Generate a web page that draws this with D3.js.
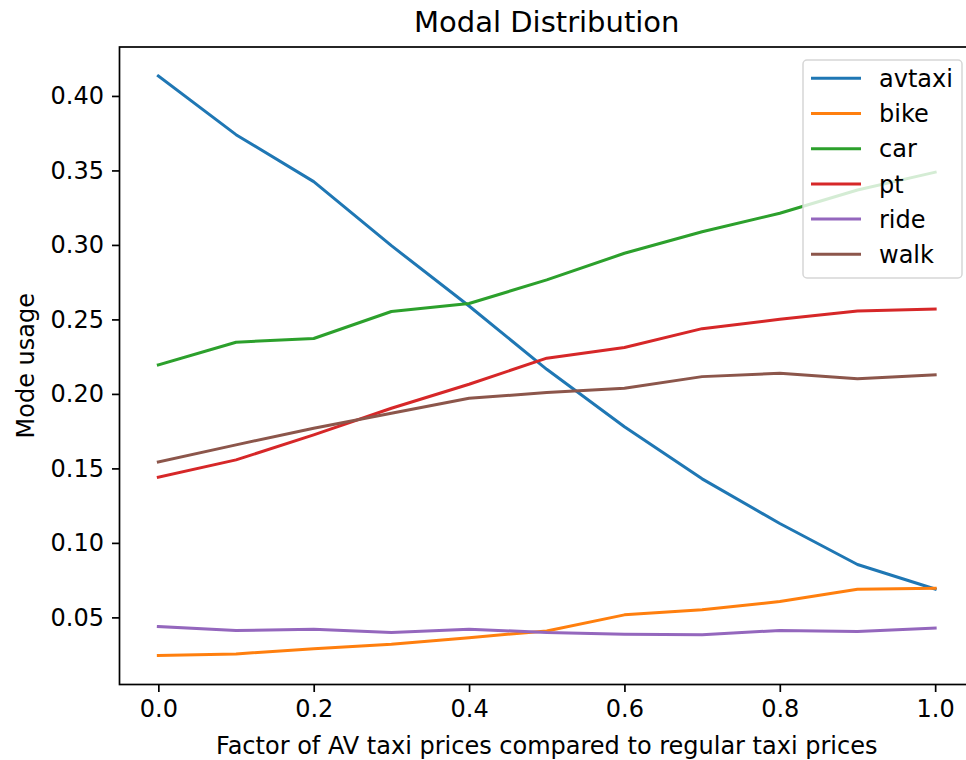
<!DOCTYPE html>
<html>
<head>
<meta charset="utf-8">
<script src="https://cdn.jsdelivr.net/npm/d3@7"></script>
<style>
    body { margin: 0; background: #ffffff; }
    svg { display: block; }
</style>
</head>
<body>
<div id="chart"></div>
<script>
// price factors on the x axis
const factors = [0.0, 0.1, 0.2, 0.3, 0.4, 0.5, 0.6, 0.7, 0.8, 0.9, 1.0];

const modes = ['avtaxi', 'bike', 'car', 'pt', 'ride', 'walk'];

const avtaxi = [0.4134, 0.3740, 0.3425, 0.2995, 0.2590, 0.2165, 0.1780, 0.1430, 0.1130, 0.0855, 0.0690];
const bike   = [0.0244, 0.0255, 0.0290, 0.0320, 0.0364, 0.0409, 0.0517, 0.0552, 0.0606, 0.0689, 0.0696];
const car    = [0.2195, 0.2347, 0.2372, 0.2553, 0.2607, 0.2765, 0.2944, 0.3088, 0.3213, 0.3369, 0.3488];
const pt     = [0.1441, 0.1557, 0.1725, 0.1904, 0.2065, 0.2240, 0.2311, 0.2438, 0.2501, 0.2557, 0.2570];
const ride   = [0.0438, 0.0412, 0.0421, 0.0398, 0.0421, 0.0398, 0.0387, 0.0383, 0.0412, 0.0405, 0.0428];
const walk   = [0.1544, 0.1658, 0.1770, 0.1870, 0.1971, 0.2009, 0.2038, 0.2116, 0.2139, 0.2101, 0.2128];

const x_ticks = [0.0, 0.2, 0.4, 0.6, 0.8, 1.0];
const y_ticks = [0.05, 0.10, 0.15, 0.20, 0.25, 0.30, 0.35, 0.40];

const title = 'Modal Distribution';
const x_label = 'Factor of AV taxi prices compared to regular taxi prices';
const y_label = 'Mode usage';

(function() {
    const colors = ['#1f77b4', '#ff7f0e', '#2ca02c', '#d62728', '#9467bd', '#8c564b'];
    const series_values = [avtaxi, bike, car, pt, ride, walk];

    let series = modes.map((name, i) => ({
        name: name,
        color: colors[i],
        values: factors.map((f, j) => ({ x: f, y: series_values[i][j] }))
    }));

    let width = 966,
        height = 760,
        margins = {top: 47, right: 974, bottom: 684.5, left: 119.5},
        font = 'DejaVu Sans, sans-serif';

    // matplotlib style 5% padding around the data
    let pad = function(extent) {
        let d = (extent[1] - extent[0]) * 0.05;
        return [extent[0] - d, extent[1] + d];
    };

    let all_y = [].concat(...series_values);

    let x = d3.scaleLinear()
        .domain(pad(d3.extent(factors)))
        .range([margins.left, margins.right]);

    let y = d3.scaleLinear()
        .domain(pad(d3.extent(all_y)))
        .range([margins.bottom, margins.top]);

    let svg = d3.select('#chart').append('svg')
        .attr('width', width)
        .attr('height', height)
        .attr('font-family', font);

    svg.append('defs').append('clipPath')
        .attr('id', 'plot-clip')
        .append('rect')
        .attr('x', margins.left)
        .attr('y', margins.top)
        .attr('width', margins.right - margins.left)
        .attr('height', margins.bottom - margins.top);

    let line = d3.line()
        .x((d) => x(d.x))
        .y((d) => y(d.y));

    svg.append('g')
        .attr('clip-path', 'url(#plot-clip)')
        .selectAll('path')
        .data(series)
        .enter().append('path')
        .attr('fill', 'none')
        .attr('stroke', (d) => d.color)
        .attr('stroke-width', 3)
        .attr('stroke-linejoin', 'round')
        .attr('stroke-linecap', 'square')
        .attr('d', (d) => line(d.values));

    // axes
    let x_axis = svg.append('g')
        .attr('transform', 'translate(0,' + margins.bottom + ')')
        .call(d3.axisBottom(x).tickValues(x_ticks).tickFormat(d3.format('.1f'))
            .tickSize(7.5).tickPadding(8));

    let y_axis = svg.append('g')
        .attr('transform', 'translate(' + margins.left + ',0)')
        .call(d3.axisLeft(y).tickValues(y_ticks).tickFormat(d3.format('.2f'))
            .tickSize(7.5).tickPadding(8));

    [x_axis, y_axis].forEach(function(axis) {
        axis.select('.domain').remove();
        axis.selectAll('.tick line').attr('stroke', '#000').attr('stroke-width', 1.7);
        axis.selectAll('.tick text')
            .attr('fill', '#000')
            .attr('font-size', 24)
            .attr('font-family', font);
    });
    x_axis.selectAll('.tick text').attr('dy', '0.72em');

    svg.append('rect')
        .attr('x', margins.left)
        .attr('y', margins.top)
        .attr('width', margins.right - margins.left)
        .attr('height', margins.bottom - margins.top)
        .attr('fill', 'none')
        .attr('stroke', '#000')
        .attr('stroke-width', 1.7);

    // legend
    let legend_box = {x: 803, y: 60, w: 159, h: 218},
        row_y0 = 78.3,
        row_step = 35.2;

    let legend = svg.append('g');

    legend.append('rect')
        .attr('x', legend_box.x)
        .attr('y', legend_box.y)
        .attr('width', legend_box.w)
        .attr('height', legend_box.h)
        .attr('rx', 4)
        .attr('fill', '#ffffff')
        .attr('fill-opacity', 0.8)
        .attr('stroke', '#d6d6d6')
        .attr('stroke-width', 1.5);

    let rows = legend.selectAll('g.row')
        .data(series)
        .enter().append('g')
        .attr('class', 'row')
        .attr('transform', (d, i) => 'translate(0,' + (row_y0 + i * row_step) + ')');

    rows.append('line')
        .attr('x1', 811)
        .attr('x2', 861)
        .attr('stroke', (d) => d.color)
        .attr('stroke-width', 3);

    rows.append('text')
        .attr('x', 879)
        .attr('dy', '0.36em')
        .attr('font-size', 24)
        .attr('fill', '#000')
        .text((d) => d.name);

    // titles
    svg.append('text')
        .attr('x', (margins.left + margins.right) / 2)
        .attr('y', 32)
        .attr('text-anchor', 'middle')
        .attr('font-size', 29)
        .attr('fill', '#000')
        .text(title);

    svg.append('text')
        .attr('x', (margins.left + margins.right) / 2)
        .attr('y', 754)
        .attr('text-anchor', 'middle')
        .attr('font-size', 24)
        .attr('fill', '#000')
        .text(x_label);

    svg.append('text')
        .attr('transform', 'translate(34,' + ((margins.top + margins.bottom) / 2) + ') rotate(-90)')
        .attr('text-anchor', 'middle')
        .attr('font-size', 24)
        .attr('fill', '#000')
        .text(y_label);
}());
</script>
</body>
</html>
